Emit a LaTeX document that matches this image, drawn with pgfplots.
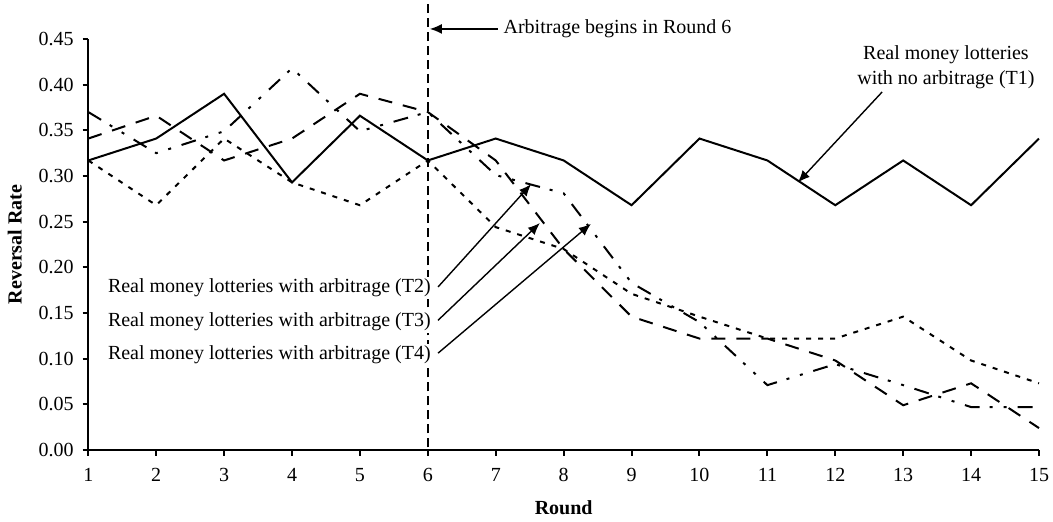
\documentclass[border=0pt]{standalone}
\usepackage{fontspec}
\setmainfont{Liberation Serif}
\usepackage{pgfplots}
\pgfplotsset{compat=1.18}
\usetikzlibrary{arrows.meta}

\pgfplotstableread{
r   t1     t2     t3     t4
1   0.317  0.317  0.341  0.370
2   0.341  0.268  0.366  0.325
3   0.390  0.341  0.317  0.349
4   0.293  0.293  0.341  0.418
5   0.366  0.268  0.390  0.349
6   0.317  0.317  0.370  0.370
7   0.341  0.244  0.317  0.301
8   0.317  0.220  0.220  0.281
9   0.268  0.171  0.146  0.183
10  0.341  0.146  0.122  0.140
11  0.317  0.122  0.122  0.071
12  0.268  0.122  0.098  0.094
13  0.317  0.146  0.049  0.071
14  0.268  0.098  0.073  0.047
15  0.341  0.073  0.024  0.047
}\rates

\begin{document}
\begin{tikzpicture}[font=\fontsize{10}{12}\selectfont]
\useasboundingbox (-44.15pt,-36pt) rectangle (482.35pt,225pt);
\begin{axis}[
    at={(0,0)}, anchor=south west,
    width=475.35pt, height=205.5pt, scale only axis,
    xmin=1, xmax=15, ymin=0, ymax=0.45,
    axis lines*=left,
    axis line style={line width=1pt},
    every tick/.style={line width=1pt, black},
    tick align=outside,
    major tick length=2.8pt,
    xtick={1,...,15},
    ytick={0,0.05,0.10,0.15,0.20,0.25,0.30,0.35,0.40,0.45},
    xticklabel style={yshift=-3pt},
    yticklabel style={xshift=-1pt, /pgf/number format/.cd, fixed, fixed zerofill, precision=2},
    /pgf/number format/assume math mode=true,
    xlabel={\textbf{Round}},
    ylabel={\textbf{Reversal Rate}},
    xlabel style={at={(axis description cs:0.5,-0.141)}, anchor=center},
    ylabel style={at={(axis description cs:-0.0772,0.5)}, anchor=center},
    clip=false,
]
% start of arbitrage
\draw[line width=0.8pt, dash pattern=on 4.5pt off 2.5pt] (axis cs:6,0.003) -- (axis cs:6,0.4927);

\addplot[black, line width=1pt] table[x=r, y=t1] {\rates};
\addplot[black, line width=1pt, dash pattern=on 2.5pt off 3.5pt] table[x=r, y=t2] {\rates};
\addplot[black, line width=1pt, dash pattern=on 7pt off 5.5pt] table[x=r, y=t3] {\rates};
\addplot[black, line width=1pt, dash pattern=on 7.5pt off 5pt on 1.5pt off 5.5pt on 1.5pt off 5.5pt] table[x=r, y=t4] {\rates};

% annotations
\draw[line width=0.7pt, -{Latex[length=6pt,width=5pt]}] (axis cs:7.03,0.461) -- (axis cs:6.03,0.461);
\node[anchor=west, inner sep=0pt] at (axis cs:7.11,0.461) {Arbitrage begins in Round 6};

\node[align=center, inner sep=0pt, font=\fontsize{10}{12.5}\selectfont] at (axis cs:13.63,0.419)
    {Real money lotteries\\with no arbitrage (T1)};
\draw[line width=0.7pt, -{Latex[length=6pt,width=5pt]}] (axis cs:12.69,0.392) -- (axis cs:11.45,0.293);

\node[anchor=east, fill=white, inner sep=1pt] at (axis cs:6.077,0.1774) {Real money lotteries with arbitrage (T2)};
\node[anchor=east, fill=white, inner sep=1pt] at (axis cs:6.077,0.140) {Real money lotteries with arbitrage (T3)};
\node[anchor=east, fill=white, inner sep=1pt] at (axis cs:6.077,0.104) {Real money lotteries with arbitrage (T4)};
\draw[line width=0.7pt, -{Latex[length=6pt,width=5pt]}] (axis cs:6.15,0.1785) -- (axis cs:7.52,0.291);
\draw[line width=0.7pt, -{Latex[length=6pt,width=5pt]}] (axis cs:6.15,0.142) -- (axis cs:7.65,0.2485);
\draw[line width=0.7pt, -{Latex[length=6pt,width=5pt]}] (axis cs:6.15,0.106) -- (axis cs:8.40,0.2475);
\end{axis}
\end{tikzpicture}
\end{document}
